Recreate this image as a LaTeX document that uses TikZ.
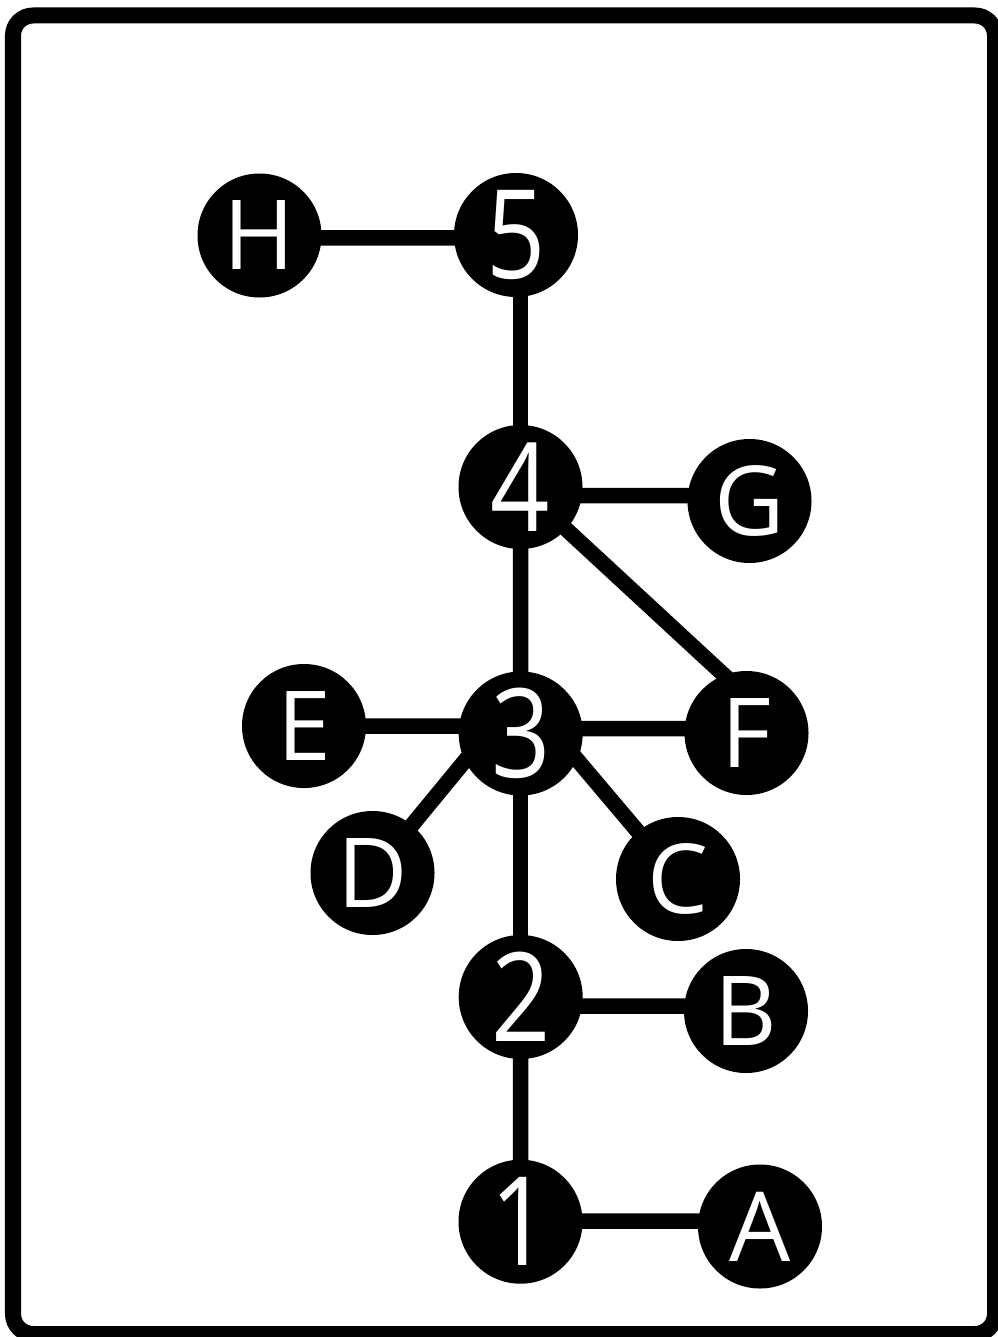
\documentclass[tikz,border=0pt]{standalone}
\usepackage{fontspec}
\setmainfont{Open Sans}
\newfontfamily\digitfont{Open Sans}[FakeStretch=0.84]
\usetikzlibrary{backgrounds}
\begin{document}
\begin{tikzpicture}[x=1bp,y=-1bp,
 vtx/.style={circle,fill=black,text=white,minimum size=124bp,inner sep=0pt},
 numnode/.style={vtx,font=\digitfont\fontsize{124}{124}\selectfont},
 letnode/.style={vtx,font=\fontsize{97}{97}\selectfont},
 link/.style={line width=15.5bp,black}]
\useasboundingbox (0,0) rectangle (997,1337);
\node[letnode] (H) at (259.5,235.5) {H};
\node[numnode] (n5) at (516,235) {5};
\node[numnode] (n4) at (520.5,487) {4};
\node[letnode] (G) at (749.5,501) {G};
\node[letnode] (E) at (304,726) {E};
\node[numnode] (n3) at (520.7,733.5) {3};
\node[letnode] (F) at (746.5,733) {F};
\node[letnode] (D) at (372.5,873) {D};
\node[letnode] (C) at (678,879) {C};
\node[numnode] (n2) at (520.7,997) {2};
\node[letnode] (B) at (746,1011) {B};
\node[numnode] (n1) at (520.5,1221.7) {1};
\node[letnode] (A) at (760,1226.5) {A};
\coordinate (d3) at (501,717);
\coordinate (c3) at (541,717);
\coordinate (f4) at (765,713);
\begin{scope}[on background layer]
\draw[line width=16bp,rounded corners=20bp] (13,15.5) rectangle (995,1334);
\draw[link] ([yshift=-2.5bp]H.center) -- ([yshift=-3bp]n5.center);
\draw[link] (n5.center -| n4.center) -- (n4.center);
\draw[link] ([yshift=-8.5bp]n4.center) -- ([yshift=5.5bp]G.center);
\draw[link] (n4.center) -- (f4);
\draw[link] (n4.center) -- (n3.center);
\draw[link] (E.center) -- ([yshift=7.5bp]n3.center);
\draw[link] ([yshift=5bp]n3.center) -- ([yshift=4.5bp]F.center);
\draw[link] (D.center) -- (d3);
\draw[link] (C.center) -- (c3);
\draw[link] (n3.center) -- (n2.center);
\draw[link] ([yshift=-9bp]n2.center) -- ([yshift=5bp]B.center);
\draw[link] (n2.center) -- (n1.center);
\draw[link] ([yshift=0.7bp]n1.center) -- ([yshift=5.5bp]A.center);
\end{scope}
\end{tikzpicture}
\end{document}
